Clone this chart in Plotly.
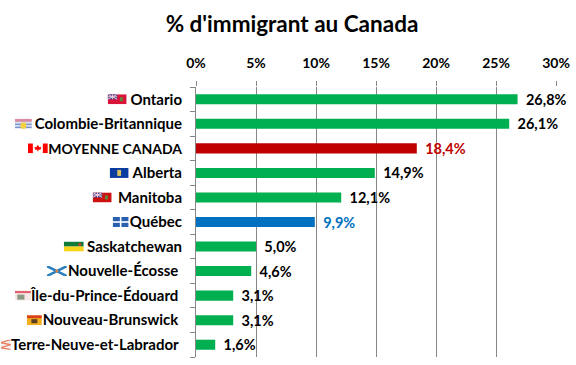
import plotly.graph_objects as go
import base64

categories = ["Ontario", "Colombie-Britannique", "MOYENNE CANADA", "Alberta", "Manitoba", "Québec",
              "Saskatchewan", "Nouvelle-Écosse", "Île-du-Prince-Édouard", "Nouveau-Brunswick",
              "Terre-Neuve-et-Labrador"]
values = [26.8, 26.1, 18.4, 14.9, 12.1, 9.9, 5.0, 4.6, 3.1, 3.1, 1.6]
labels = ["26,8%", "26,1%", "18,4%", "14,9%", "12,1%", "9,9%", "5,0%", "4,6%", "3,1%", "3,1%", "1,6%"]
GREEN, RED, BLUE = "#00B050", "#C00000", "#0070C0"
bar_colors = [GREEN, GREEN, RED, GREEN, GREEN, BLUE, GREEN, GREEN, GREEN, GREEN, GREEN]
label_colors = ["#000000", "#000000", RED, "#000000", "#000000", BLUE, "#000000", "#000000", "#000000", "#000000", "#000000"]
ticks = [0, 5, 10, 15, 20, 25, 30]
tick_labels = ["0%", "5%", "10%", "15%", "20%", "25%", "30%"]

FONT = "Lato, Carlito, sans-serif"
GRID = "#868686"
NB = "\u00a0"

def svg(body, w=20, h=10):
    s = f'<svg xmlns="http://www.w3.org/2000/svg" width="{w}" height="{h}" viewBox="0 0 {w} {h}" preserveAspectRatio="none">{body}</svg>'
    return "data:image/svg+xml;base64," + base64.b64encode(s.encode()).decode()

ensign = '<rect width="20" height="10" fill="{c}"/><rect width="10" height="5" fill="#3B3F8F"/><path d="M0 0L10 5M10 0L0 5M5 0V5M0 2.5H10" stroke="#F2D0D8" stroke-width="1"/><rect x="13" y="3" width="3" height="4" fill="#5F8A3A"/>'
flags = [
    (19, ensign.format(c="#D8143A"), 107),
    (17, '<rect width="20" height="10" fill="#D8DDF0"/><path d="M0 0H20V3H0Z" fill="#D88AA0"/><path d="M0 5H20V6H0ZM0 8H20V9H0Z" fill="#5A7FC0"/><circle cx="10" cy="7" r="3.5" fill="#F4D040"/>', 14),
    (20, '<rect width="20" height="10" fill="#fff"/><rect width="5" height="10" fill="#FF0000"/><rect x="15" width="5" height="10" fill="#FF0000"/><path d="M10 1.5L11.5 4L13.5 3.6L12.6 6.5H10.5V8H9.5V6.5H7.4L6.5 3.6L8.5 4Z" fill="#FF0000"/>', 27),
    (19, '<rect width="20" height="10" fill="#0A3BA0"/><rect x="8" y="2" width="4" height="6" fill="#D8C060"/>', 109),
    (19, ensign.format(c="#CC1010"), 92),
    (16, '<rect width="20" height="10" fill="#fff"/><rect width="9" height="4.2" fill="#2A60B0"/><rect x="11" width="9" height="4.2" fill="#2A60B0"/><rect y="5.8" width="9" height="4.2" fill="#2A60B0"/><rect x="11" y="5.8" width="9" height="4.2" fill="#2A60B0"/>', 112),
    (20, '<rect width="20" height="5" fill="#0F7A3A"/><rect y="5" width="20" height="5" fill="#F7D417"/><circle cx="16" cy="3" r="1.5" fill="#C84020"/>', 63),
    (20, '<rect width="20" height="10" fill="#fff"/><path d="M0 0L20 10M20 0L0 10" stroke="#2A7FC0" stroke-width="2.5"/><circle cx="10" cy="5" r="1.5" fill="#E0803A"/>', 46),
    (16, '<rect width="20" height="10" fill="#F6E8E8"/><rect width="20" height="2.5" fill="#E06070"/><rect x="3" y="4" width="9" height="5" fill="#8A9A80"/>', 14),
    (15, '<rect width="20" height="10" fill="#F2B01E"/><rect width="20" height="3" fill="#D84020"/><rect x="6" y="4" width="8" height="4" fill="#5A4020"/>', 26),
    (10, '<rect width="20" height="10" fill="#F6F0F0"/><path d="M20 0L0 3L20 5L0 8L20 10" fill="none" stroke="#E88060" stroke-width="1.3"/>', 0),
]

W, H = 576, 365
L, R, T, B = 195.5, 556.3, 87, 357
rows = list(range(len(categories)))
boundaries = [i - 0.5 for i in rows] + [rows[-1] + 0.5]

images = []
for i, (w, body, px) in zip(rows, flags):
    images.append(dict(source=svg(body), xref="paper", yref="y", x=(px - L) / (R - L), y=i,
                       sizex=w / (R - L), sizey=10 / 24.55, xanchor="left", yanchor="middle",
                       sizing="stretch", layer="above"))

y_text = []
for i, c in enumerate(categories):
    if c == "MOYENNE CANADA":
        y_text.append(f'<span style="font-size:14px">{c}</span>')
    elif i >= 7:
        y_text.append(c + NB)
    else:
        y_text.append(c)

fig = go.Figure(go.Bar(
    x=values, y=rows, orientation="h", marker=dict(color=bar_colors, line_width=0), width=0.41,
    text=[NB + "\u2009" + t for t in labels], textposition="outside", cliponaxis=False, constraintext="none",
    textfont=dict(family=FONT, size=14.5, color=label_colors, weight="bold"), hoverinfo="skip"))

fig.update_layout(
    width=W, height=H, autosize=False, hovermode=False,
    margin=dict(l=L, r=W - R, t=T, b=H - B, pad=0),
    paper_bgcolor="#fff", plot_bgcolor="#fff", showlegend=False, images=images,
    font=dict(family=FONT, size=14, color="#000"),
    title=dict(text="% d'immigrant au Canada", x=292 / W, xanchor="center",
               y=1 - 24 / H, yanchor="middle",
               font=dict(family=FONT, size=22.5, color="#000", weight="bold")),
)
fig.update_xaxes(side="top", range=[0, 30], tickvals=ticks, ticktext=tick_labels, automargin=False,
                 ticks="outside", ticklen=5, tickcolor=GRID, showgrid=True, gridcolor=GRID, gridwidth=1,
                 showline=False, zeroline=False, ticklabelstandoff=7,
                 tickfont=dict(family=FONT, size=14, color="#000", weight="bold"))
fig.update_yaxes(range=[rows[-1] + 0.5, -0.5], tickmode="array", tickvals=rows, ticktext=y_text, ticks="",
                 automargin=False, showgrid=False, zeroline=False, showline=True, linecolor=GRID, linewidth=1,
                 ticklabelstandoff=10,
                 minor=dict(tickmode="array", tickvals=boundaries, ticks="outside", ticklen=5,
                            tickcolor=GRID, tickwidth=1, showgrid=False),
                 tickfont=dict(family=FONT, size=15, color="#000", weight="bold"))
fig.write_html("out.html", config={"displayModeBar": False},
               post_script="document.body.style.margin='0';document.documentElement.style.overflow='hidden';")
